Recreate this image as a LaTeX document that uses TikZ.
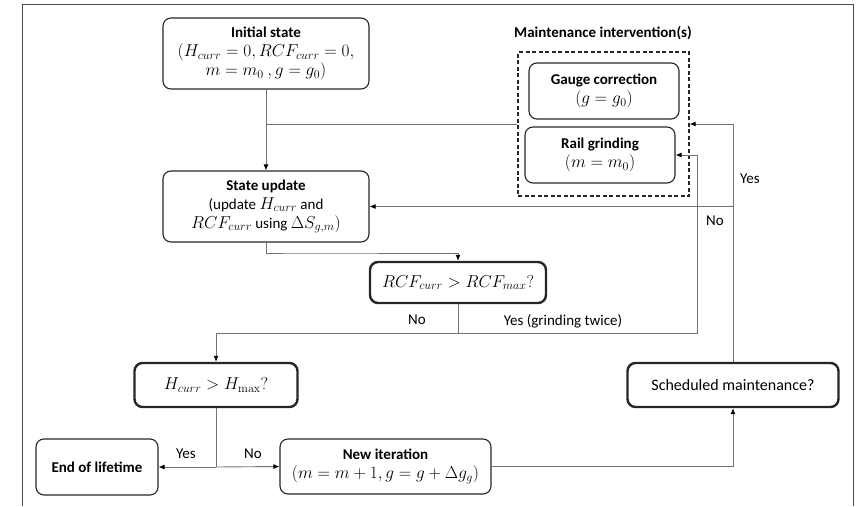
\documentclass[tikz,border=0pt]{standalone}
\usepackage[no-math]{fontspec}
\setmainfont{Carlito}
\usetikzlibrary{arrows.meta}
\newcommand\mth[1]{{\fontsize{16.5}{19}\selectfont$#1$}}
\tikzset{
  box/.style={draw=black!85, line width=1.1pt, rounded corners=8pt, align=center, inner sep=0pt, font=\fontsize{15}{19}\selectfont},
  decbox/.style={box, line width=2.4pt},
  conn/.style={draw=black!55, line width=0.9pt},
  arr/.style={conn, -{Latex[length=6pt,width=5pt,fill=black,color=black]}},
  lbl/.style={font=\fontsize{15}{19}\selectfont, inner sep=0pt},
  frame/.style={draw=black!70, line width=1.6pt}
}
\begin{document}
\begin{tikzpicture}[x=1pt,y=-1pt]
\useasboundingbox (0,0) rectangle (861,506);
\draw[frame] (22.5,506) -- (22.5,4.5) -- (853.5,4.5) -- (853.5,506);

\node[box, minimum width=206pt, minimum height=71pt] (init) at (266,53.5)
  {\textbf{Initial state}\\\mth{(H_{curr}=0, RCF_{curr}=0,}\\\mth{m=m_0\ ,g=g_0)}};
\node[box, minimum width=206pt, minimum height=71pt] (upd) at (266,206.5)
  {\textbf{State update}\\(update \mth{H_{curr}} and\\\mth{RCF_{curr}} using \mth{\Delta S_{g,m})}};
\node[decbox, minimum width=176pt, minimum height=41pt] (rcf) at (458,282.5)
  {\mth{RCF_{curr}>RCF_{max}?}};
\node[decbox, minimum width=163pt, minimum height=44pt] (hdec) at (216,385)
  {\mth{H_{curr}>H_{\mathrm{max}}?}};
\node[box, minimum width=122pt, minimum height=56pt] (eol) at (97,467)
  {\textbf{End of lifetime}};
\node[box, minimum width=211pt, minimum height=55pt] (newit) at (385.5,466.5)
  {\textbf{New iteration}\\\mth{(m=m+1,g=g+\Delta g_g)}};
\node[decbox, minimum width=211pt, minimum height=44pt, font=\fontsize{16}{19}\selectfont] (sched) at (733,385)
  {Scheduled maintenance?};
\node[box, minimum width=150pt, minimum height=56pt] (gauge) at (604,91)
  {\textbf{Gauge correction}\\\mth{(g=g_0)}};
\node[box, minimum width=150pt, minimum height=56pt] (rail) at (600,155)
  {\textbf{Rail grinding}\\\mth{(m=m_0)}};
\node[draw=black!85, dash pattern=on 4pt off 2.5pt, line width=1.2pt, minimum width=171pt, minimum height=144pt, inner sep=0pt] (dbox) at (603.5,124) {};
\node[lbl] (mlab) at (603,33) {\textbf{Maintenance intervention(s)}};

\coordinate (b1) at (300,253);
\coordinate (j1) at (458,333);
\coordinate (g1) at (697,333);
\coordinate (j2) at (216,467);

\draw[arr] (init) -- (upd);
\draw[conn] (dbox.west) -- (dbox.west -| init.south);
\draw[arr] (upd.south) |- (b1) -| (rcf.north);
\draw[conn] (rcf.south) -- (j1);
\draw[arr] (j1) -| (hdec.north);
\draw[arr] (j1) -- (g1) |- (rail.east);
\draw[conn] (hdec.south) -- (j2);
\draw[arr] (j2) -- (eol.east);
\draw[arr] (j2) -- (newit.west);
\draw[arr] (newit.east) -| (sched.south);
\draw[arr] (sched.north) |- (upd.east);
\draw[arr] (sched.north) |- (dbox.east);

\node[lbl] (lno1) at (417,320) {No};
\node[lbl] (lyes1) at (563,321) {Yes (grinding twice)};
\node[lbl] (lyes2) at (186,454) {Yes};
\node[lbl] (lno2) at (253,454) {No};
\node[lbl] (lyes3) at (750,179) {Yes};
\node[lbl] (lno3) at (715,221) {No};
\end{tikzpicture}
\end{document}
